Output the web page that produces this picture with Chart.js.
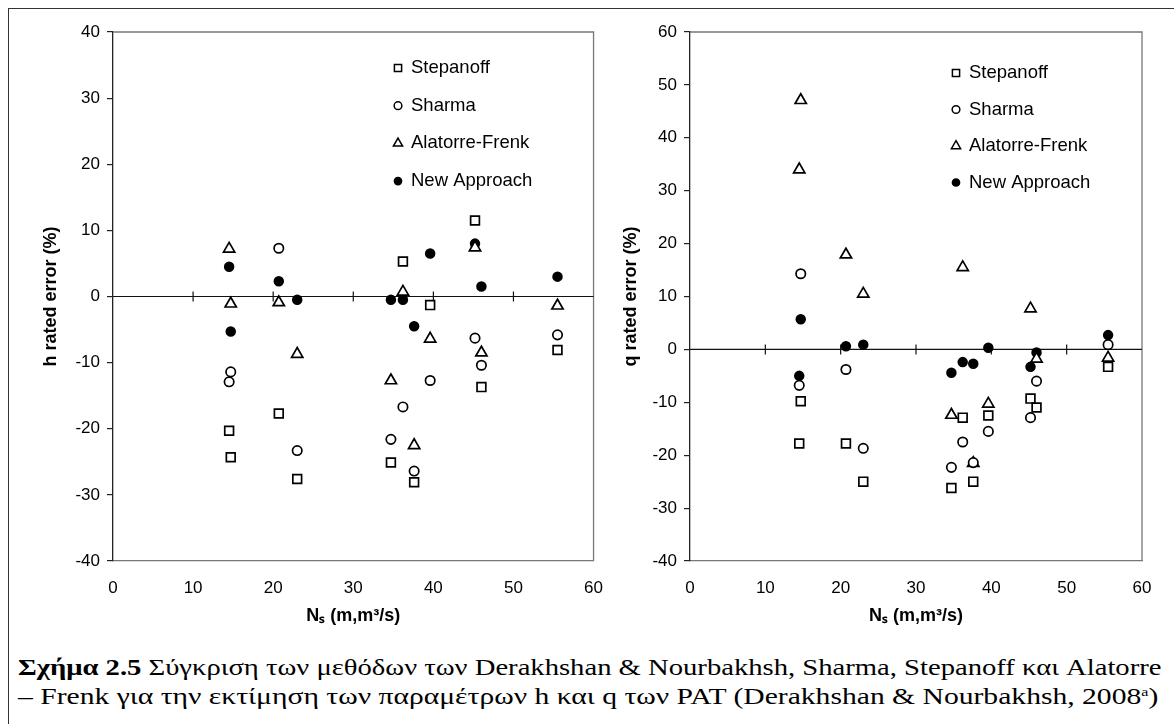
<!DOCTYPE html>
<html>
<head>
<meta charset="utf-8">
<title>PAT h / q rated error</title>
<script src="https://cdn.jsdelivr.net/npm/chart.js@4/dist/chart.umd.min.js"></script>
<style>
    body {
        margin: 0;
        width: 1174px;
        height: 724px;
        overflow: hidden;
        position: relative;
        background: #fff;
    }
    #frame {
        position: absolute;
        left: 8px;
        top: 8px;
        width: 1200px;
        height: 760px;
        border-left: 1.5px solid #333;
        border-top: 1.5px solid #333;
    }
    .box {
        position: absolute;
        top: 0;
        height: 640px;
    }
    #hBox { left: 0; width: 620px; }
    #qBox { left: 580px; width: 594px; }
    .cap {
        position: absolute;
        left: 18px;
        font-family: "Liberation Serif", "DejaVu Serif", serif;
        font-size: 24px;
        line-height: 1;
        white-space: nowrap;
        color: #000;
        transform-origin: 0 0;
    }
    #cap1 { top: 655px; }
    #cap2 { top: 684px; }
    sup { font-size: 13px; vertical-align: 8px; line-height: 0; }
</style>
</head>
<body>
<div id="frame"></div>
<div class="box" id="hBox"><canvas id="hChart"></canvas></div>
<div class="box" id="qBox"><canvas id="qChart"></canvas></div>
<div class="cap" id="cap1"><b>Σχήμα 2.5</b> Σύγκριση των μεθόδων των Derakhshan &amp; Nourbakhsh, Sharma, Stepanoff και Alatorre</div>
<div class="cap" id="cap2">– Frenk για την εκτίμηση των παραμέτρων h και q των PAT (Derakhshan &amp; Nourbakhsh, 2008<sup>a</sup>)</div>

<script>
// specific speed of the tested pumps
const ns = [14.5, 14.7, 20.7, 23.0, 34.7, 36.2, 37.6, 39.6, 45.2, 46.0, 55.5];

// head error (%)
const hStepanoff = [-20.3, -24.3, -17.7, -27.6, -25.1, 5.3, -28.1, -1.3, 11.5, -13.7, -8.1];
const hSharma    = [-12.9, -11.4, 7.3, -23.3, -21.6, -16.7, -26.4, -12.7, -6.3, -10.4, -5.8];
const hAlatorre  = [7.2, -1.1, -0.9, -8.7, -12.7, 0.7, -22.5, -6.4, 7.4, -8.5, -1.4];
const hNew       = [4.5, -5.3, 2.3, -0.5, -0.5, -0.5, -4.5, 6.5, 8.0, 1.5, 3.0];

// flow error (%)
const qStepanoff = [-17.8, -9.8, -17.8, -25.0, -26.2, -12.9, -25.0, -12.5, -9.3, -11.0, -3.3];
const qSharma    = [-6.8, 14.3, -3.8, -18.7, -22.3, -17.5, -21.4, -15.5, -12.9, -6.0, 0.9];
const qAlatorre  = [34.0, 47.1, 17.9, 10.5, -12.4, 15.5, -21.5, -10.3, 7.7, -1.8, -1.6];
const qNew       = [-5.0, 5.7, 0.6, 0.9, -4.4, -2.4, -2.7, 0.3, -3.3, -0.6, 2.7];

const seriesNames = ["Stepanoff", "Sharma", "Alatorre-Frenk", "New Approach"];
const nsTicks = [10, 20, 30, 40, 50];

const markers = [
    { pointStyle: 'rect', pointRadius: 6.2, backgroundColor: '#fff' },
    { pointStyle: 'circle', pointRadius: 4.7, backgroundColor: '#fff' },
    { pointStyle: 'triangle', pointRadius: 6.5, backgroundColor: '#fff' },
    { pointStyle: 'circle', pointRadius: 4.4, backgroundColor: '#000' }
];

function toPoints(ys) {
    let pts = [];
    for (let i = 0; i < ns.length; i++) {
        pts.push({ x: ns[i], y: ys[i] });
    }
    return pts;
}

function makeDatasets(lists) {
    return lists.map(function (ys, i) {
        return {
            label: seriesNames[i],
            data: toPoints(ys),
            pointStyle: markers[i].pointStyle,
            pointRadius: markers[i].pointRadius,
            pointHoverRadius: markers[i].pointRadius,
            backgroundColor: markers[i].backgroundColor,
            borderColor: '#000',
            borderWidth: 1.7,
            showLine: false
        };
    });
}

// line through y = 0 with crossing ticks, plus the grey plot frame
const zeroAxis = {
    id: 'zeroAxis',
    beforeDatasetsDraw(chart) {
        const ctx = chart.ctx;
        const area = chart.chartArea;
        const xs = chart.scales.x;
        const y0 = chart.scales.y.getPixelForValue(0);
        ctx.save();
        ctx.strokeStyle = '#777';
        ctx.lineWidth = 1.3;
        ctx.beginPath();
        ctx.moveTo(area.left, area.top);
        ctx.lineTo(area.right, area.top);
        ctx.lineTo(area.right, area.bottom);
        ctx.stroke();
        ctx.strokeStyle = '#111';
        ctx.lineWidth = 1.2;
        ctx.beginPath();
        ctx.moveTo(area.left, y0);
        ctx.lineTo(area.right, y0);
        nsTicks.forEach(function (v) {
            let px = xs.getPixelForValue(v);
            ctx.moveTo(px, y0 - 5);
            ctx.lineTo(px, y0 + 5);
        });
        ctx.stroke();
        ctx.restore();
    }
};

// marker legend sitting inside the plot area
const cornerLegend = {
    id: 'cornerLegend',
    afterDatasetsDraw(chart, args, opts) {
        const ctx = chart.ctx;
        const area = chart.chartArea;
        ctx.save();
        ctx.font = '18.5px "Liberation Sans", Arial, sans-serif';
        ctx.textBaseline = 'middle';
        chart.data.datasets.forEach(function (ds, i) {
            let px = area.left + opts.x;
            let py = area.top + opts.y + i * opts.gap;
            ctx.fillStyle = ds.backgroundColor;
            ctx.strokeStyle = ds.borderColor;
            ctx.lineWidth = 1.5;
            Chart.helpers.drawPoint(ctx, {
                pointStyle: ds.pointStyle,
                radius: ds.pointRadius * 0.82,
                borderWidth: 1.5
            }, px, py);
            ctx.fillStyle = '#000';
            ctx.fillText(ds.label, px + 13, py);
        });
        ctx.restore();
    }
};

function makeChart(id, lists, yMin, yMax, yTitle, axisWidth, padRight, legendPos) {
    return new Chart(document.getElementById(id), {
        type: 'scatter',
        data: { datasets: makeDatasets(lists) },
        plugins: [zeroAxis, cornerLegend],
        options: {
            responsive: true,
            maintainAspectRatio: false,
            animation: false,
            layout: { padding: { top: 32, right: padRight, left: 0, bottom: 0 } },
            plugins: {
                legend: { display: false },
                tooltip: { enabled: false },
                cornerLegend: legendPos
            },
            scales: {
                x: {
                    type: 'linear',
                    min: 0,
                    max: 60,
                    afterFit(scale) { scale.height = 79; },
                    ticks: {
                        stepSize: 10,
                        padding: 17,
                        color: '#000',
                        font: { family: '"Liberation Sans", Arial, sans-serif', size: 17 }
                    },
                    grid: { display: false, drawTicks: false },
                    border: { display: true, color: '#777', width: 1.3 },
                    title: {
                        display: true,
                        text: 'Nₛ (m,m³/s)',
                        color: '#000',
                        padding: { top: 0, bottom: 13 },
                        font: { family: '"Liberation Sans", Arial, sans-serif', size: 18, weight: 'bold' }
                    }
                },
                y: {
                    type: 'linear',
                    min: yMin,
                    max: yMax,
                    afterFit(scale) { scale.width = axisWidth; },
                    ticks: {
                        stepSize: 10,
                        padding: 7,
                        color: '#000',
                        font: { family: '"Liberation Sans", Arial, sans-serif', size: 17 }
                    },
                    grid: { drawOnChartArea: false, tickLength: 6, color: '#222', lineWidth: 1.2 },
                    border: { display: true, color: '#222', width: 1.3 },
                    title: {
                        display: true,
                        text: yTitle,
                        color: '#000',
                        padding: { top: 40, bottom: 0 },
                        font: { family: '"Liberation Sans", Arial, sans-serif', size: 18, weight: 'bold' }
                    }
                }
            }
        }
    });
}

makeChart('hChart', [hStepanoff, hSharma, hAlatorre, hNew], -40, 40,
    'h rated error (%)', 113, 23, { x: 285, y: 36, gap: 37.7 });
makeChart('qChart', [qStepanoff, qSharma, qAlatorre, qNew], -40, 60,
    'q rated error (%)', 110, 32, { x: 266, y: 41, gap: 36.5 });

// stretch each caption line across the frame
function fitLine(id, width) {
    let el = document.getElementById(id);
    el.style.transform = 'scaleX(' + (width / el.scrollWidth) + ')';
}
fitLine('cap1', 1144);
fitLine('cap2', 1140);
</script>
</body>
</html>
